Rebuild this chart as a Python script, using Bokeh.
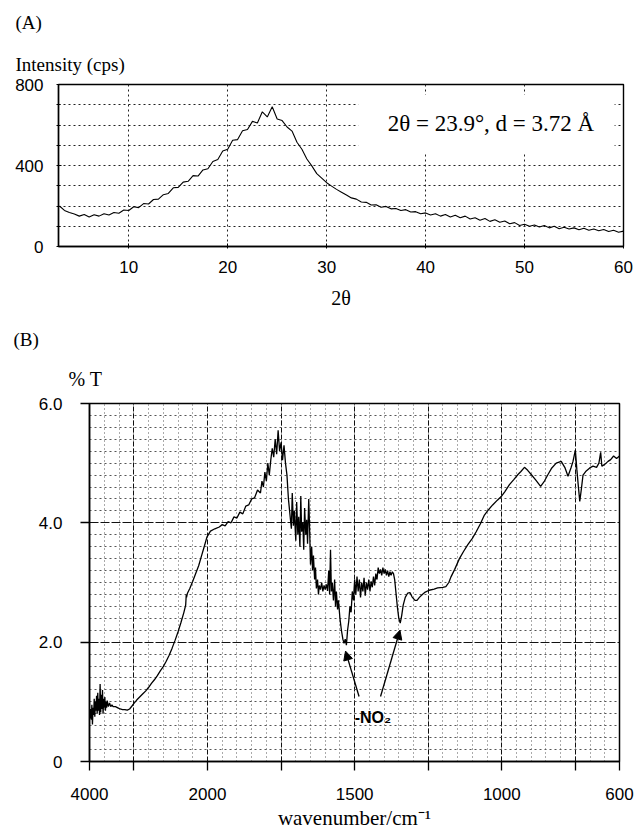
import numpy as np
from bokeh.plotting import figure
from bokeh.layouts import column
from bokeh.models import (Range1d, FixedTicker, Label, BoxAnnotation, Arrow,
                          NormalHead, Title)
from bokeh.embed import file_html
from bokeh.resources import INLINE

# ---------------- Panel A data (XRD) ----------------
two_theta = [
    3.0, 3.5, 4.0, 4.5, 5.0, 5.5, 6.0, 6.5, 7.0, 7.5,
    8.0, 8.5, 9.0, 9.5, 10.0, 10.5, 11.0, 11.5, 12.0, 12.5,
    13.0, 13.5, 14.0, 14.5, 15.0, 15.5, 16.0, 16.5, 17.0, 17.5,
    18.0, 18.5, 19.0, 19.5, 20.0, 20.5, 21.0, 21.5, 22.0, 22.5,
    23.0, 23.5, 24.0, 24.5, 25.0, 25.5, 26.0, 26.5, 27.0, 27.5,
    28.0, 28.5, 29.0, 29.5, 30.0, 30.5, 31.0, 31.5, 32.0, 32.5,
    33.0, 33.5, 34.0, 34.5, 35.0, 35.5, 36.0, 36.5, 37.0, 37.5,
    38.0, 38.5, 39.0, 39.5, 40.0, 40.5, 41.0, 41.5, 42.0, 42.5,
    43.0, 43.5, 44.0, 44.5, 45.0, 45.5, 46.0, 46.5, 47.0, 47.5,
    48.0, 48.5, 49.0, 49.5, 50.0, 50.5, 51.0, 51.5, 52.0, 52.5,
    53.0, 53.5, 54.0, 54.5, 55.0, 55.5, 56.0, 56.5, 57.0, 57.5,
    58.0, 58.5, 59.0, 59.5, 60.0]
intensity = [
    200, 178, 168, 160, 150, 158, 146, 157, 150, 162,
    156, 168, 164, 180, 178, 196, 192, 212, 210, 232,
    234, 256, 262, 290, 292, 318, 322, 350, 348, 378,
    384, 420, 430, 472, 480, 525, 528, 572, 578, 618,
    610, 665, 640, 690, 630, 622, 590, 570, 515, 480,
    432, 398, 360, 338, 315, 298, 282, 268, 254, 240,
    234, 220, 218, 205, 206, 194, 198, 186, 188, 178,
    182, 170, 172, 162, 166, 156, 162, 150, 158, 146,
    154, 142, 150, 136, 142, 130, 138, 124, 132, 120,
    126, 112, 118, 104, 110, 100, 106, 96, 104, 92,
    100, 88, 95, 86, 92, 83, 90, 80, 86, 78,
    84, 74, 80, 70, 76]
a_xticks = [10, 20, 30, 40, 50, 60]
a_yticks = [0, 400, 800]
a_yminor = [100, 200, 300, 500, 600, 700]
a_note = "2\u03b8 = 23.9\u00b0, d = 3.72 \u00c5"

# ---------------- Panel B data (IR) ----------------
wavenumber = [
    4000, 3990, 3980, 3970, 3960, 3950, 3940, 3930, 3920, 3910,
    3900, 3890, 3880, 3870, 3860, 3850, 3840, 3830, 3820, 3810,
    3800, 3790, 3780, 3770, 3760, 3750, 3740, 3730, 3720, 3710,
    3700, 3680, 3660, 3640, 3620, 3600, 3560, 3520, 3480, 3440,
    3400, 3360, 3320, 3280, 3250, 3200, 3150, 3100, 3050, 3000,
    2950, 2900, 2850, 2800, 2750, 2700, 2650, 2600, 2550, 2500,
    2450, 2400, 2370, 2360, 2355, 2340, 2300, 2250, 2200, 2150,
    2100, 2050, 2010, 1990, 1975, 1960, 1950, 1940, 1930, 1920,
    1910, 1900, 1890, 1880, 1870, 1860, 1850, 1840, 1830, 1820,
    1815, 1810, 1805, 1800, 1795, 1790, 1785, 1780, 1775, 1770,
    1765, 1760, 1755, 1750, 1745, 1740, 1735, 1730, 1725, 1720,
    1715, 1712, 1708, 1705, 1700, 1697, 1693, 1690, 1686, 1683,
    1680, 1676, 1673, 1670, 1666, 1663, 1660, 1656, 1653, 1650,
    1646, 1643, 1640, 1636, 1633, 1630, 1626, 1623, 1620, 1616,
    1612, 1608, 1604, 1600, 1596, 1592, 1588, 1585, 1582, 1579,
    1576, 1572, 1568, 1565, 1562, 1558, 1555, 1550, 1545, 1540,
    1536, 1532, 1528, 1524, 1520, 1516, 1512, 1508, 1504, 1500,
    1496, 1492, 1488, 1484, 1480, 1476, 1472, 1468, 1464, 1460,
    1456, 1452, 1448, 1444, 1440, 1436, 1432, 1428, 1424, 1420,
    1416, 1412, 1408, 1404, 1400, 1396, 1392, 1388, 1384, 1380,
    1376, 1372, 1368, 1364, 1360, 1355, 1350, 1345, 1340, 1335,
    1328, 1320, 1312, 1305, 1295, 1288, 1280, 1270, 1260, 1247,
    1230, 1218, 1200, 1190, 1180, 1173, 1160, 1144, 1130, 1116,
    1100, 1087, 1073, 1059, 1045, 1031, 1015, 1002, 990, 974,
    960, 945, 935, 923, 912, 900, 885, 868, 855, 843,
    830, 815, 798, 785, 775, 765, 758, 750, 745, 740,
    735, 730, 724, 715, 701, 690, 678, 670, 664, 660,
    650, 639, 630, 620, 610, 600]
transmittance = [
    0.80, 0.72, 0.88, 0.70, 0.95, 0.62, 0.90, 0.78, 1.05, 0.75,
    1.00, 0.85, 1.10, 0.80, 1.15, 0.85, 1.05, 0.78, 1.30, 0.82,
    1.12, 0.88, 1.20, 0.80, 1.05, 0.90, 1.08, 0.85, 1.00, 0.90,
    1.02, 0.92, 0.98, 0.92, 0.95, 0.92, 0.92, 0.90, 0.88, 0.87,
    0.87, 0.86, 0.88, 0.93, 0.97, 1.03, 1.08, 1.13, 1.18, 1.24,
    1.31, 1.37, 1.44, 1.52, 1.59, 1.68, 1.78, 1.90, 2.03, 2.17,
    2.33, 2.50, 2.62, 2.80, 2.75, 2.82, 2.90, 3.02, 3.15, 3.28,
    3.45, 3.62, 3.76, 3.86, 3.90, 3.93, 3.97, 3.95, 4.02, 4.00,
    4.10, 4.08, 4.18, 4.15, 4.28, 4.30, 4.40, 4.42, 4.55, 4.50,
    4.70, 4.60, 4.85, 4.70, 5.00, 4.80, 5.05, 5.25, 5.10, 5.40,
    5.15, 5.55, 5.20, 5.35, 5.05, 5.30, 5.00, 4.80, 4.40, 4.15,
    3.90, 4.50, 3.95, 4.20, 3.70, 4.35, 3.80, 4.10, 3.60, 4.45,
    3.85, 4.00, 3.55, 4.25, 3.80, 4.05, 3.65, 4.40, 3.90, 3.30,
    3.60, 3.20, 3.45, 3.05, 3.25, 2.90, 3.05, 2.80, 2.95, 2.88,
    3.00, 2.85, 2.95, 2.88, 2.97, 2.86, 3.20, 2.80, 3.55, 2.85,
    3.00, 2.70, 3.05, 2.60, 2.85, 2.55, 2.70, 2.40, 2.20, 2.05,
    1.98, 2.05, 1.95, 2.20, 2.35, 2.60, 2.50, 2.85, 2.70, 3.05,
    2.80, 3.10, 2.85, 3.05, 2.75, 3.00, 2.85, 3.08, 2.78, 3.00,
    2.88, 3.05, 2.85, 3.02, 2.92, 3.10, 2.95, 3.15, 3.05, 3.25,
    3.15, 3.22, 3.12, 3.25, 3.15, 3.22, 3.12, 3.20, 3.10, 3.18,
    3.12, 3.18, 3.15, 3.05, 2.85, 2.60, 2.40, 2.32, 2.45, 2.62,
    2.75, 2.82, 2.83, 2.76, 2.70, 2.70, 2.75, 2.80, 2.84, 2.87,
    2.89, 2.91, 2.92, 2.93, 3.00, 3.09, 3.22, 3.40, 3.52, 3.63,
    3.74, 3.85, 3.98, 4.13, 4.22, 4.30, 4.38, 4.44, 4.52, 4.64,
    4.72, 4.81, 4.86, 4.93, 4.88, 4.81, 4.72, 4.61, 4.70, 4.81,
    4.92, 5.00, 5.03, 4.92, 4.78, 4.92, 5.03, 5.22, 4.90, 4.62,
    4.36, 4.55, 4.80, 4.86, 4.92, 4.95, 4.93, 5.00, 5.18, 4.95,
    4.98, 5.03, 5.06, 5.12, 5.08, 5.12]
b_labeled_w = [4000, 2000, 1500, 1000, 600]
b_unlabeled_w = [3250, 1750, 1250, 750]
b_minor_w = list(range(3750, 2000, -250)) + list(range(1950, 600, -50))
b_yticks = [0, 2, 4, 6]
b_ylabels = {0: "0", 2: "2.0", 4: "4.0", 6: "6.0"}
b_yminor = [round(0.2 * i, 1) for i in range(1, 30) if i % 10 != 0]
no2_peaks_w = [1531, 1346]
no2_peaks_t = [1.97, 2.32]
arrow_starts_w = [1485, 1412]

# Piecewise wavenumber scale (region above 2000 cm-1 is compressed 5x)
SCALE_W = [600, 2000, 4000]
SCALE_U = [530, 118, 0]


def to_u(w):
    return np.interp(np.asarray(w, dtype=float), SCALE_W, SCALE_U)


SANS = "Liberation Sans"
SERIF = "Liberation Serif"


def title(text, offset, standoff, size):
    return Title(text=text, align="left", offset=offset, standoff=standoff,
                 text_font=SERIF, text_font_size=size, text_font_style="normal",
                 text_color="black")


# ================= Panel A =================
pa = figure(width=635, height=311, x_range=Range1d(2.9, 60), y_range=Range1d(0, 800),
            output_backend="svg", toolbar_location=None, title=None,
            min_border_left=58, min_border_right=12, min_border_top=84, min_border_bottom=63)
pa.background_fill_color = "white"
pa.border_fill_color = "white"
pa.outline_line_color = "black"
pa.outline_line_width = 1.4

pa.line(two_theta, intensity, line_color="black", line_width=1.1)

pa.xaxis.ticker = FixedTicker(ticks=a_xticks)
pa.yaxis.ticker = FixedTicker(ticks=a_yticks, minor_ticks=a_yminor)
for ax in (pa.xaxis[0], pa.yaxis[0]):
    ax.axis_line_color = "black"
    ax.axis_line_width = 1.4
    ax.major_label_text_font = SANS
    ax.major_label_text_font_size = "17px"
    ax.major_label_text_color = "black"
    ax.major_tick_line_color = "black"
    ax.major_tick_in = 3
    ax.major_tick_out = 2
    ax.minor_tick_in = 2
    ax.minor_tick_out = 2
    ax.minor_tick_line_color = "black"
pa.xaxis.major_label_standoff = 12
pa.yaxis.major_label_standoff = 13
pa.xaxis.axis_label = "2\u03b8"
pa.xaxis.axis_label_text_font = SERIF
pa.xaxis.axis_label_text_font_style = "normal"
pa.xaxis.axis_label_text_font_size = "20px"
pa.xaxis.axis_label_text_color = "black"
pa.xaxis.axis_label_standoff = 11

pa.xgrid.grid_line_color = "#222222"
pa.xgrid.grid_line_dash = "2 3"
pa.ygrid.grid_line_color = "#222222"
pa.ygrid.grid_line_dash = "2 3"
pa.ygrid.minor_grid_line_color = "#222222"
pa.ygrid.minor_grid_line_dash = "2 3"

pa.add_layout(BoxAnnotation(left=33.2, right=59.1, bottom=460, top=750,
                            fill_color="white", fill_alpha=1.0, line_alpha=0))
pa.add_layout(Label(x=46.6, y=605, text=a_note, text_font=SERIF, text_font_size="23px",
                    text_align="center", text_baseline="middle", text_color="black"))
pa.add_layout(title("Intensity (cps)", -43, 19, "19px"), "above")
pa.add_layout(title("(A)", -43, 19, "19px"), "above")

# ================= Panel B =================
pb = figure(width=635, height=521, x_range=Range1d(0, 530), y_range=Range1d(0, 6),
            output_backend="svg", toolbar_location=None, title=None,
            min_border_left=89, min_border_right=16, min_border_top=92, min_border_bottom=68)
pb.background_fill_color = "white"
pb.border_fill_color = "white"
pb.outline_line_color = "black"
pb.outline_line_width = 1.5

u_labeled = [float(v) for v in to_u(b_labeled_w)]
u_unlabeled = [float(v) for v in to_u(b_unlabeled_w)]
u_minor = [float(v) for v in to_u(b_minor_w)]
x_overrides = {float(to_u(w)): str(w) for w in b_labeled_w}

pb.line(to_u(wavenumber), transmittance, line_color="black", line_width=1.3)

pb.xaxis.ticker = FixedTicker(ticks=u_labeled, minor_ticks=u_unlabeled)
pb.xaxis.major_label_overrides = x_overrides
pb.xgrid.ticker = FixedTicker(ticks=u_labeled + u_unlabeled, minor_ticks=u_minor)
pb.yaxis.ticker = FixedTicker(ticks=b_yticks, minor_ticks=b_yminor)
pb.yaxis.major_label_overrides = b_ylabels
for ax in (pb.xaxis[0], pb.yaxis[0]):
    ax.axis_line_color = "black"
    ax.axis_line_width = 1.5
    ax.major_label_text_font = SANS
    ax.major_label_text_font_size = "17px"
    ax.major_label_text_color = "black"
    ax.major_tick_line_color = "black"
    ax.major_tick_line_width = 1.3
    ax.major_tick_in = 0
    ax.major_tick_out = 9
    ax.minor_tick_line_color = "black"
    ax.minor_tick_line_width = 1.3
    ax.minor_tick_in = 0
pb.xaxis.minor_tick_out = 9
pb.yaxis.minor_tick_out = 0
pb.xaxis.major_label_standoff = 17
pb.yaxis.major_label_standoff = 18
pb.xaxis.axis_label = "wavenumber/cm\u207b\u00b9"
pb.xaxis.axis_label_text_font = SERIF
pb.xaxis.axis_label_text_font_style = "normal"
pb.xaxis.axis_label_text_font_size = "21px"
pb.xaxis.axis_label_text_color = "black"
pb.xaxis.axis_label_standoff = 3

pb.xgrid.grid_line_color = "#111111"
pb.xgrid.grid_line_dash = "5 2"
pb.ygrid.grid_line_color = "#111111"
pb.ygrid.grid_line_dash = "9 2"
pb.xgrid.minor_grid_line_color = "#555555"
pb.xgrid.minor_grid_line_dash = "1 3"
pb.ygrid.minor_grid_line_color = "#555555"
pb.ygrid.minor_grid_line_dash = "2 3"

# -NO2 annotation with arrows
for ws, we, te in zip(arrow_starts_w, no2_peaks_w, no2_peaks_t):
    pb.add_layout(Arrow(end=NormalHead(size=9, fill_color="black", line_color="black"),
                        x_start=float(to_u(ws)), y_start=1.09,
                        x_end=float(to_u(we)), y_end=te - 0.12,
                        line_color="black", line_width=1.3))
pb.add_layout(Label(x=float(to_u(1500)), y=0.73, text="-NO\u2082", text_font=SANS,
                    text_font_style="bold", text_font_size="16px", text_align="left",
                    text_baseline="middle", text_color="black"))
pb.add_layout(title("% T", -21, 28, "20px"), "above")
pb.add_layout(title("(B)", -76, 4, "19px"), "above")

layout = column(column(pa), column(pb))
open("out.html", "w").write(file_html(layout, INLINE))
